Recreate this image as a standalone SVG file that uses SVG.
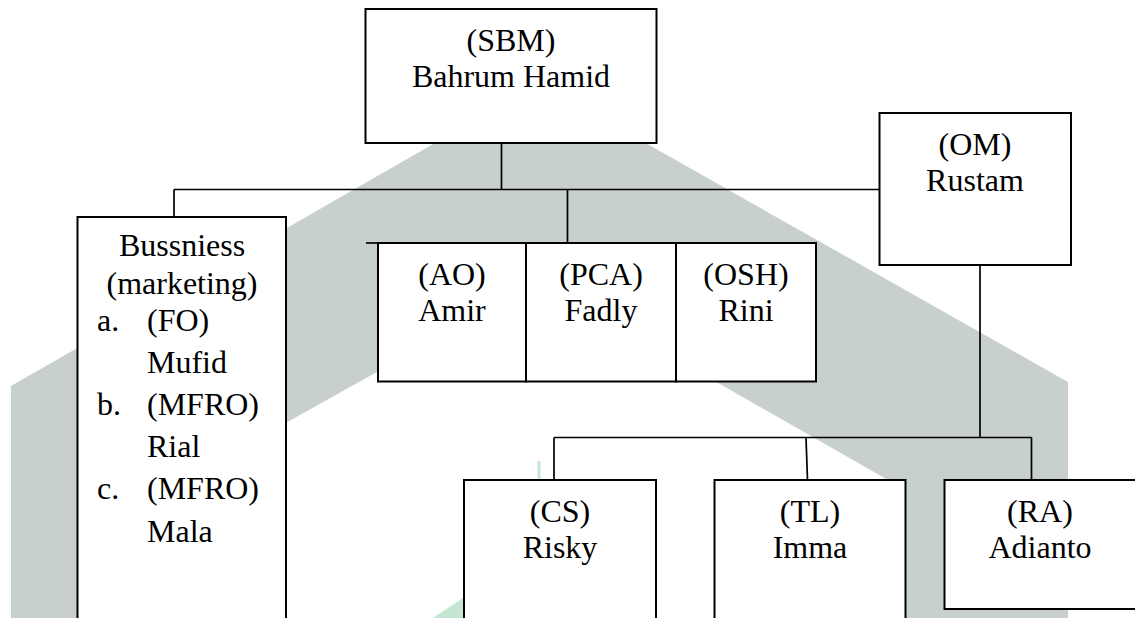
<svg xmlns="http://www.w3.org/2000/svg" width="1135" height="618" viewBox="0 0 1135 618">
  <style>
    .box { fill: #ffffff; stroke: #000000; stroke-width: 2; }
    .wire { fill: none; stroke: #000000; stroke-width: 1.7; }
    .lbl { font-family: "Liberation Serif", "Times New Roman", Times, Tinos, "Nimbus Roman", "Nimbus Roman No9 L", FreeSerif, "DejaVu Serif", "Noto Serif", serif; font-size: 32px; fill: #000000; }
    .mid { text-anchor: middle; }
  </style>

  <rect x="0" y="0" width="1135" height="618" fill="#ffffff"/>

  <!-- background emblem -->
  <g id="emblem">
    <polygon fill="#c7d0cc" points="11,386 539.5,83 1068,382 1068,620 895,620 895,484 539.5,281 184,480 184,620 11,620"/>
    <polygon fill="#c4e6d3" points="537.5,461 540.5,461 541,620 430,620 537.5,548"/>
  </g>

  <!-- connectors -->
  <g id="connectors" class="wire">
    <path d="M501.5,143 V189.5"/>
    <path d="M174,189.5 H879.5"/>
    <path d="M174,189.5 V217"/>
    <path d="M567.5,189.5 V243"/>
    <path d="M366,243 H378"/>
    <path d="M980,265 V437.5"/>
    <path d="M554,437.5 H1031.5"/>
    <path d="M554,437.5 V480"/>
    <path d="M806,437.5 L807.5,480"/>
    <path d="M1031.5,437.5 V480"/>
  </g>

  <g id="nodes">
    <g id="node-sbm">
      <rect class="box" x="365.5" y="9" width="291" height="134"/>
      <text class="lbl mid" x="511" y="51">(SBM)</text>
      <text class="lbl mid" x="511" y="87">Bahrum Hamid</text>
    </g>

    <g id="node-om">
      <rect class="box" x="879.5" y="113" width="191.5" height="152"/>
      <text class="lbl mid" x="975" y="155">(OM)</text>
      <text class="lbl mid" x="975" y="191">Rustam</text>
    </g>

    <g id="node-business">
      <rect class="box" x="77.5" y="217" width="208.5" height="420"/>
      <text class="lbl mid" x="182" y="256">Bussniess</text>
      <text class="lbl mid" x="182" y="294">(marketing)</text>
      <text class="lbl" x="97" y="331">a.</text>
      <text class="lbl" x="147" y="331">(FO)</text>
      <text class="lbl" x="147" y="373">Mufid</text>
      <text class="lbl" x="97" y="415">b.</text>
      <text class="lbl" x="147" y="415">(MFRO)</text>
      <text class="lbl" x="147" y="457">Rial</text>
      <text class="lbl" x="97" y="499">c.</text>
      <text class="lbl" x="147" y="499">(MFRO)</text>
      <text class="lbl" x="147" y="542">Mala</text>
    </g>

    <g id="node-ao">
      <rect class="box" x="378" y="243" width="148" height="138.5"/>
      <text class="lbl mid" x="452" y="285">(AO)</text>
      <text class="lbl mid" x="452" y="321">Amir</text>
    </g>

    <g id="node-pca">
      <rect class="box" x="526" y="243" width="150" height="138.5"/>
      <text class="lbl mid" x="601" y="285">(PCA)</text>
      <text class="lbl mid" x="601" y="321">Fadly</text>
    </g>

    <g id="node-osh">
      <rect class="box" x="676" y="243" width="140" height="138.5"/>
      <text class="lbl mid" x="746" y="285">(OSH)</text>
      <text class="lbl mid" x="746" y="321">Rini</text>
    </g>

    <g id="node-cs">
      <rect class="box" x="464" y="480" width="192" height="160"/>
      <text class="lbl mid" x="560" y="522">(CS)</text>
      <text class="lbl mid" x="560" y="558">Risky</text>
    </g>

    <g id="node-tl">
      <rect class="box" x="714.5" y="480" width="191" height="160"/>
      <text class="lbl mid" x="810" y="522">(TL)</text>
      <text class="lbl mid" x="810" y="558">Imma</text>
    </g>

    <g id="node-ra">
      <rect class="box" x="944.5" y="480" width="192" height="129"/>
      <text class="lbl mid" x="1040" y="522">(RA)</text>
      <text class="lbl mid" x="1040" y="558">Adianto</text>
    </g>
  </g>
</svg>
